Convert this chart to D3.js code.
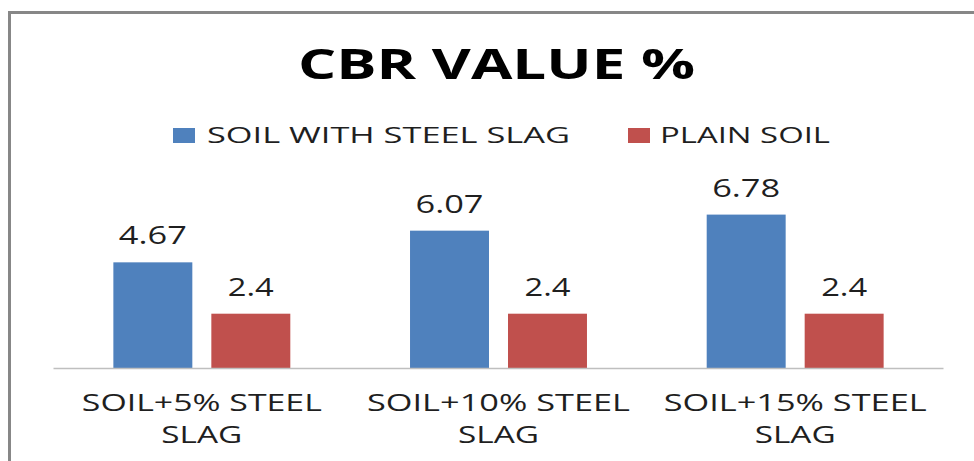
<!DOCTYPE html>
<meta charset="utf-8">
<style>
body{
  margin:0;
  background:#fff;
}
text{
  font-family:"Open Sans", sans-serif;
  fill:#1f1f1f;
}
.title{
  font-weight:bold;
  fill:#000;
}
</style>
<body>
<script src="https://cdn.jsdelivr.net/npm/d3@7/dist/d3.min.js"></script>
<script>
// data
var categories = [["SOIL+5% STEEL", "SLAG"], ["SOIL+10% STEEL", "SLAG"], ["SOIL+15% STEEL", "SLAG"]];
var series = ["SOIL WITH STEEL SLAG", "PLAIN SOIL"];
var slagValues = [4.67, 6.07, 6.78];
var plainValues = [2.4, 2.4, 2.4];
var colors = ["#4f81bd", "#c0504d"];

var svgW = 974, svgH = 461;
var plot = {left:53.5, right:943.5, top:187, bottom:368};

var svg = d3.select("body").append("svg").attr("width", svgW).attr("height", svgH);

// chart frame (only top and left edges are visible in the crop)
svg.append("path")
  .attr("d", "M9.5," + svgH + "V12.5H" + svgW)
  .attr("fill", "none").attr("stroke", "#878787").attr("stroke-width", 3);

var x = d3.scaleBand().domain(d3.range(categories.length)).range([plot.left, plot.right]);
var xs = d3.scaleBand().domain(d3.range(series.length)).range([0, x.bandwidth()])
  .paddingInner(0.194).paddingOuter(0.611);
var y = d3.scaleLinear().domain([0, 8]).range([plot.bottom, plot.top]);

var rows = [slagValues, plainValues];

var groups = svg.append("g").selectAll("g").data(categories).enter().append("g")
  .attr("transform", function(d, i){ return "translate(" + x(i) + ",0)"; });

rows.forEach(function(vals, s){
  groups.append("rect")
    .attr("x", xs(s)).attr("width", xs.bandwidth())
    .attr("y", function(d, i){ return y(vals[i]); })
    .attr("height", function(d, i){ return y(0) - y(vals[i]); })
    .attr("fill", colors[s]);

  groups.append("text")
    .attr("x", xs(s) + xs.bandwidth()/2)
    .attr("y", function(d, i){ return y(vals[i]) - 18; })
    .attr("text-anchor", "middle")
    .attr("font-size", 25)
    .attr("textLength", function(d, i){ return String(vals[i]).length == 3 ? 46 : 68; })
    .attr("lengthAdjust", "spacingAndGlyphs")
    .text(function(d, i){ return vals[i]; });
});

// axis line
svg.append("line")
  .attr("x1", plot.left).attr("x2", plot.right)
  .attr("y1", y(0) + 0.5).attr("y2", y(0) + 0.5)
  .attr("stroke", "#bfbfbf").attr("stroke-width", 1.5);

// category labels, two lines each
groups.append("text")
  .attr("x", x.bandwidth()/2).attr("y", 411)
  .attr("text-anchor", "middle").attr("font-size", 23.5)
  .attr("textLength", function(d, i){ return i == 0 ? 240 : 263; })
  .attr("lengthAdjust", "spacingAndGlyphs")
  .text(function(d){ return d[0]; });
groups.append("text")
  .attr("x", x.bandwidth()/2).attr("y", 443)
  .attr("text-anchor", "middle").attr("font-size", 23.5)
  .attr("textLength", 81)
  .attr("lengthAdjust", "spacingAndGlyphs")
  .text(function(d){ return d[1]; });

// title
svg.append("text").attr("class", "title")
  .attr("x", 496.5).attr("y", 79)
  .attr("text-anchor", "middle").attr("font-size", 42)
  .attr("textLength", 397).attr("lengthAdjust", "spacingAndGlyphs")
  .text("CBR VALUE %");

// legend
var legend = [{x:173, w:363}, {x:628, w:170}];
series.forEach(function(name, s){
  var g = svg.append("g").attr("transform", "translate(" + legend[s].x + ",0)");
  g.append("rect").attr("x", 0).attr("y", 128).attr("width", 22).attr("height", 15).attr("fill", colors[s]);
  g.append("text").attr("x", 34 - (s ? 2 : 0)).attr("y", 143)
    .attr("font-size", 22)
    .attr("textLength", legend[s].w).attr("lengthAdjust", "spacingAndGlyphs")
    .text(name);
});
</script>
</body>
